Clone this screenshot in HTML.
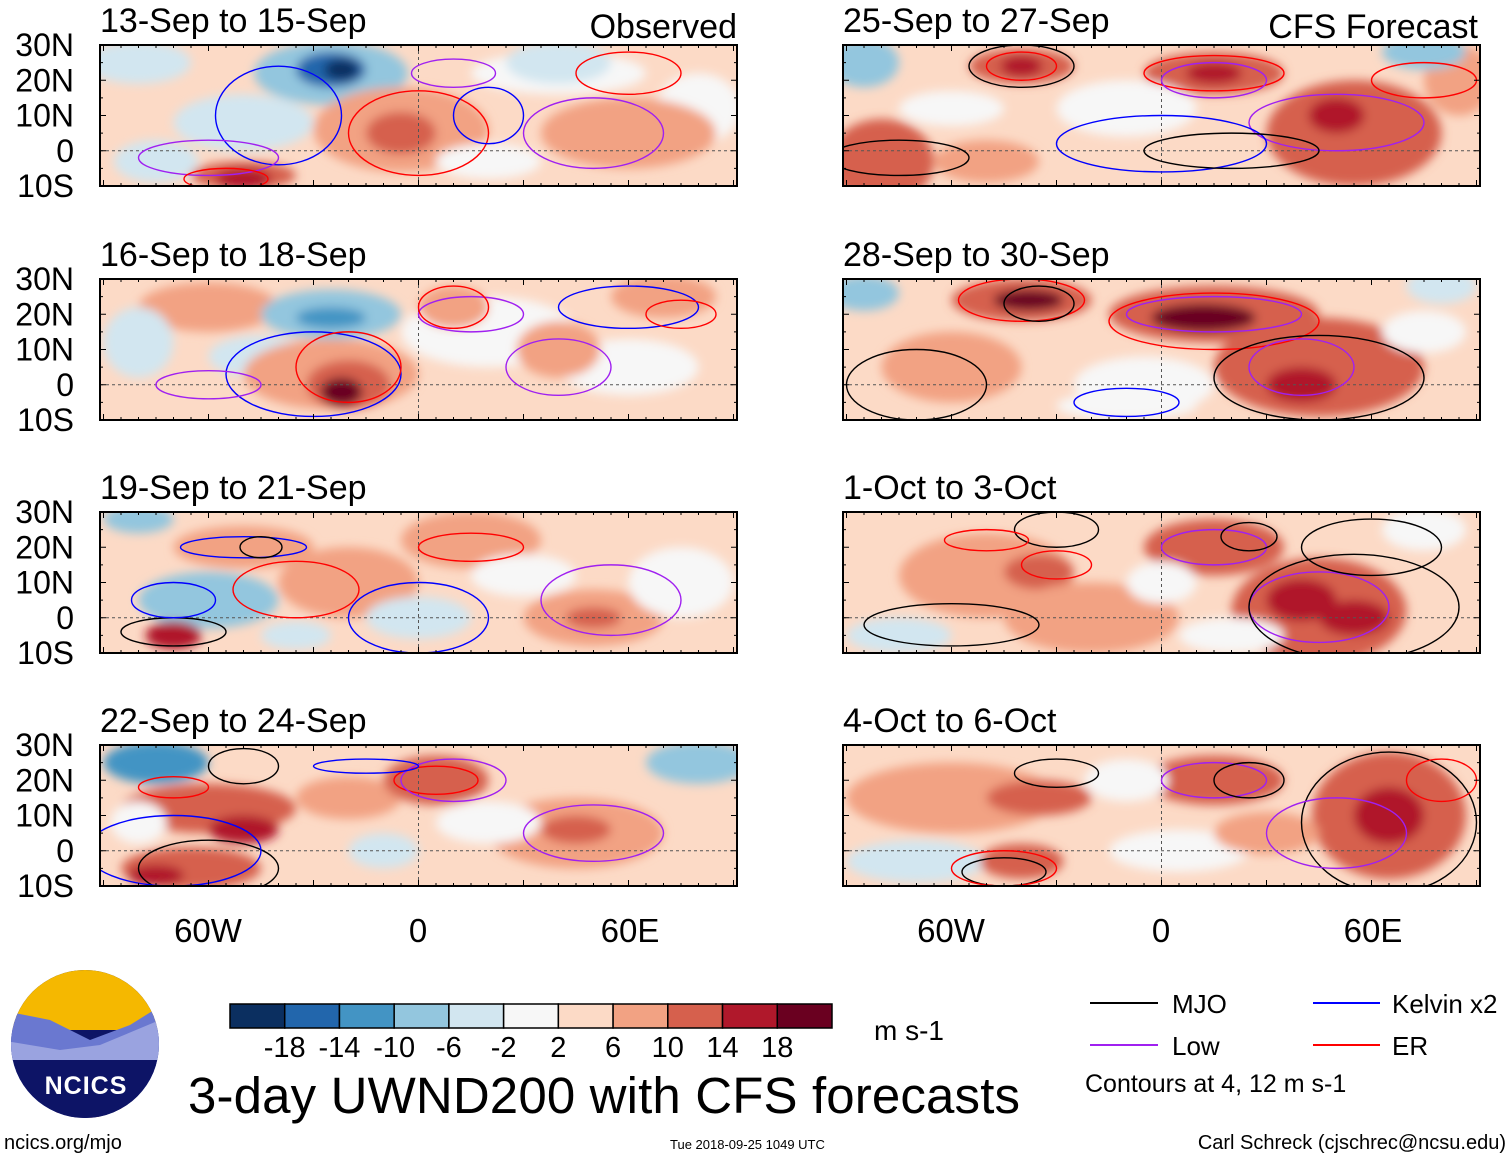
<!DOCTYPE html>
<html><head><meta charset="utf-8">
<style>
body{margin:0;background:#fff;width:1510px;height:1159px;overflow:hidden;font-family:"Liberation Sans",sans-serif}
svg{display:block}
</style></head>
<body>
<svg id="fig" width="1510" height="1159" viewBox="0 0 1510 1159" xmlns="http://www.w3.org/2000/svg">
<defs>
<filter id="blur" x="-10%" y="-10%" width="120%" height="120%"><feGaussianBlur stdDeviation="5"/></filter>
</defs>
<g id="panels"></g>
<g font-size="33" text-anchor="middle">
<text x="208" y="942">60W</text><text x="418" y="942">0</text><text x="630" y="942">60E</text>
<text x="951" y="942">60W</text><text x="1161" y="942">0</text><text x="1373" y="942">60E</text>
</g>
<text x="737" y="38" font-size="34" text-anchor="end">Observed</text>
<text x="1478" y="38" font-size="34" text-anchor="end">CFS Forecast</text>
<g>
<clipPath id="lc"><ellipse cx="85" cy="1044" rx="74" ry="74"/></clipPath>
<g clip-path="url(#lc)">
<rect x="0" y="960" width="180" height="180" fill="#0d1466"/>
<rect x="0" y="960" width="180" height="70" fill="#f5b800"/>
<path d="M0 1010 L50 1020 L90 1040 L130 1025 L170 1000 L170 1080 L150 1100 L130 1085 L110 1115 L95 1095 L60 1120 L40 1110 L20 1130 L0 1120Z" fill="#6a78d0"/>
<path d="M0 1040 L60 1050 L100 1045 L160 1020 L170 1060 L100 1070 L40 1080 L0 1070Z" fill="#9aa3e0"/>
<path d="M12 1125 L35 1110 L50 1120 L70 1100 L95 1120 L110 1100 L130 1115 L160 1080" fill="none" stroke="#e02020" stroke-width="2"/>
<rect x="0" y="1060" width="180" height="100" fill="#0d1466"/>
</g>
<text x="86" y="1094" font-size="25" font-weight="bold" fill="#fff" text-anchor="middle" letter-spacing="1">NCICS</text>
</g>
<g id="cbar"></g>
<text x="874" y="1040" font-size="28">m s-1</text>
<text x="188" y="1113" font-size="51" textLength="832">3-day UWND200 with CFS forecasts</text>
<text x="4" y="1149" font-size="20">ncics.org/mjo</text>
<text x="670" y="1149" font-size="13">Tue 2018-09-25 1049 UTC</text>
<text x="1506" y="1149" font-size="20" text-anchor="end">Carl Schreck (cjschrec@ncsu.edu)</text>
<g font-size="26">
<line x1="1090" y1="1003" x2="1158" y2="1003" stroke="#000" stroke-width="2"/><text x="1172" y="1013">MJO</text>
<line x1="1313" y1="1003" x2="1380" y2="1003" stroke="#0000ff" stroke-width="2"/><text x="1392" y="1013">Kelvin x2</text>
<line x1="1090" y1="1045" x2="1158" y2="1045" stroke="#a020f0" stroke-width="2"/><text x="1172" y="1055">Low</text>
<line x1="1313" y1="1045" x2="1380" y2="1045" stroke="#ff0000" stroke-width="2"/><text x="1392" y="1055">ER</text>
<text x="1085" y="1092" font-size="25">Contours at 4, 12 m s-1</text>
</g>
</svg>
<script>
const levelColors=["#0b2f60","#2266ac","#4394c4","#93c6de","#d2e6f0","#f7f7f7","#fcdac6","#f2a283","#d6604d","#b0182b","#6a0020"];
const cbarLabels=["-18","-14","-10","-6","-2","2","6","10","14","18"];
const panelTitles=["13-Sep to 15-Sep","16-Sep to 18-Sep","19-Sep to 21-Sep","22-Sep to 24-Sep","25-Sep to 27-Sep","28-Sep to 30-Sep","1-Oct to 3-Oct","4-Oct to 6-Oct"];
const panelBase=[6,6,6,6,6,6,6,6];
const blobs0=[[-80,25,15,6,4],[40,22,25,6,5],[80,12,12,10,5],[-25,22,22,9,3],[-25,23,10,5,1],[-22,23,5,3,0],[-50,8,20,8,4],[-5,6,25,12,7],[-5,5,10,6,8],[-50,-7,15,4,8],[-50,-8,8,3,9],[40,25,15,6,4],[60,5,25,10,7],[-75,-3,12,6,4],[20,-3,15,5,5]];
const blobs1=[[-60,22,20,7,7],[-25,20,20,7,3],[-25,19,10,3,2],[-45,8,15,6,4],[20,15,25,10,5],[60,5,20,8,5],[-25,3,25,10,7],[-20,0,12,7,8],[-22,-2,6,4,10],[70,25,15,6,7],[40,10,12,8,7],[-80,12,10,10,4],[10,22,10,6,7]];
const blobs2=[[-80,28,10,4,3],[-50,20,20,6,7],[-60,5,20,8,3],[-70,-5,8,4,9],[-20,10,20,10,7],[15,22,20,8,7],[50,0,20,8,7],[50,0,8,3,8],[0,0,15,6,4],[75,10,15,10,5],[-35,-5,10,4,4],[30,12,15,6,5]];
const blobs3=[[-75,25,15,6,2],[-60,12,25,7,8],[-50,6,10,4,9],[-65,-5,20,6,8],[-75,-7,8,3,9],[-20,15,15,6,7],[5,20,15,7,8],[45,5,25,10,7],[45,6,10,4,8],[80,25,15,6,3],[-10,0,10,5,4],[20,8,15,6,5],[-80,8,8,6,5]];
const blobs4=[[-85,25,10,7,3],[-40,24,15,5,8],[-40,24,6,3,9],[15,22,20,6,8],[15,22,8,3,9],[-80,-3,15,12,8],[-50,-3,15,6,7],[-10,12,20,8,5],[55,5,25,15,8],[50,10,8,5,9],[85,20,10,10,7],[75,28,12,5,3],[-60,12,15,5,5]];
const blobs5=[[-85,26,10,5,3],[-40,24,20,6,8],[-38,24,10,3,10],[15,20,30,8,8],[12,19,15,4,10],[-60,5,20,10,7],[45,5,30,14,8],[40,0,10,5,9],[-5,0,20,8,5],[80,28,10,5,4],[-10,-6,20,4,5],[75,15,12,6,5]];
const blobs6=[[-50,12,25,12,7],[-35,13,10,5,8],[-20,0,25,10,7],[15,20,20,8,8],[45,2,25,15,8],[40,5,10,6,9],[55,0,10,5,9],[75,25,12,6,5],[-75,-5,15,5,4],[20,-5,15,5,5],[0,10,10,6,5]];
const blobs7=[[-60,15,30,10,7],[-35,15,15,5,8],[15,20,20,7,8],[65,10,22,18,8],[65,10,10,8,9],[-70,-3,20,6,4],[-40,-3,12,5,8],[5,0,20,6,5],[30,5,15,6,7],[-10,20,12,6,5]];
const panelBlobs=[blobs0,blobs1,blobs2,blobs3,blobs4,blobs5,blobs6,blobs7];
const conts0=[[-40,10,18,14,2],[-60,-2,20,5,1],[0,5,20,12,3],[-55,-8,12,3,3],[10,22,12,4,1],[50,5,20,10,1],[60,22,15,6,3],[20,10,10,8,2]];
const conts1=[[-30,3,25,12,2],[-20,5,15,10,3],[15,20,15,5,1],[60,22,20,6,2],[75,20,10,4,3],[10,22,10,6,3],[-60,0,15,4,1],[40,5,15,8,1]];
const conts2=[[-50,20,18,3,2],[-45,20,6,3,0],[-35,8,18,8,3],[0,0,20,10,2],[15,20,15,4,3],[55,5,20,10,1],[-70,-4,15,4,0],[-70,5,12,5,2]];
const conts3=[[-50,24,10,5,0],[-60,-5,20,8,0],[-70,0,25,10,2],[5,20,12,4,3],[10,20,15,6,1],[50,5,20,8,1],[-15,24,15,2,2],[-70,18,10,3,3]];
const conts4=[[-40,24,15,6,0],[-40,24,10,4,3],[15,22,20,5,3],[15,20,15,5,1],[50,8,25,8,1],[-75,-2,20,5,0],[0,2,30,8,2],[20,0,25,5,0],[75,20,15,5,3]];
const conts5=[[-40,24,18,6,3],[-35,23,10,5,0],[15,18,30,8,3],[15,20,25,5,1],[45,2,30,12,0],[-70,0,20,10,0],[40,5,15,8,1],[-10,-5,15,4,2]];
const conts6=[[-30,25,12,5,0],[-30,15,10,4,3],[-50,22,12,3,3],[15,20,15,5,1],[25,23,8,4,0],[45,3,20,10,1],[55,3,30,15,0],[-60,-2,25,6,0],[60,20,20,8,0]];
const conts7=[[-30,22,12,4,0],[15,20,15,5,1],[25,20,10,5,0],[65,8,25,20,0],[50,5,20,10,1],[-45,-6,12,4,0],[-45,-5,15,5,3],[80,20,10,6,3]];
const panelConts=[conts0,conts1,conts2,conts3,conts4,conts5,conts6,conts7];
const contColors=["#000000","#a020f0","#0000ff","#ff0000"];
const contNames=["mjo-contour","low-contour","kelvin-contour","er-contour"];
const yTicks=["30N","20N","10N","0","10S"];
const yTickLats=[30,20,10,0,-10];
const NS="http://www.w3.org/2000/svg";
const colX=[100,843], rowY=[45,279,512,745], PW=637, PH=141;
const lonMin=-91,lonMax=91,latMin=-10,latMax=30;
function mk(t,a,p){const e=document.createElementNS(NS,t);for(const k in a)e.setAttribute(k,a[k]);p.appendChild(e);return e;}
const root=document.getElementById('panels');
for(let i=0;i<8;i++){
  const x0=colX[i<4?0:1], y0=rowY[i%4];
  const X=lon=>x0+(lon-lonMin)/(lonMax-lonMin)*PW;
  const Y=lat=>y0+(latMax-lat)/(latMax-latMin)*PH;
  const sx=PW/(lonMax-lonMin), sy=PH/(latMax-latMin);
  const g=mk('g',{},root);
  
  
  const cp=mk('clipPath',{id:'cp'+i},g);
  mk('rect',{x:x0,y:y0,width:PW,height:PH},cp);
  const inner=mk('g',{'clip-path':'url(#cp'+i+')'},g);
  mk('rect',{x:x0,y:y0,width:PW,height:PH,fill:levelColors[panelBase[i]]},inner);
  const fg=mk('g',{filter:'url(#blur)'},inner);
  panelBlobs[i].forEach(b=>{
    const e=mk('ellipse',{cx:X(b[0]),cy:Y(b[1]),rx:b[2]*sx,ry:b[3]*sy,fill:levelColors[b[4]]},fg);
    
    
  });
  mk('line',{x1:x0,y1:Y(0),x2:x0+PW,y2:Y(0),stroke:'#555','stroke-dasharray':'3,3','stroke-width':1},inner);
  mk('line',{x1:X(0),y1:y0,x2:X(0),y2:y0+PH,stroke:'#555','stroke-dasharray':'3,3','stroke-width':1},inner);
  panelConts[i].forEach(c=>{
    const e=mk('ellipse',{cx:X(c[0]),cy:Y(c[1]),rx:c[2]*sx,ry:c[3]*sy,fill:'none',stroke:contColors[c[4]],'stroke-width':1.4},inner);
    
    
  });
  mk('rect',{x:x0,y:y0,width:PW,height:PH,fill:'none',stroke:'#000','stroke-width':2},g);
  for(let lon=-90;lon<=90;lon+=5){const L=lon%30===0?6:3;
    mk('line',{x1:X(lon),y1:y0,x2:X(lon),y2:y0+L,stroke:'#000'},g);
    mk('line',{x1:X(lon),y1:y0+PH,x2:X(lon),y2:y0+PH-L,stroke:'#000'},g);}
  for(let lat=-10;lat<=30;lat+=5){const L=lat%10===0?6:3;
    mk('line',{x1:x0,y1:Y(lat),x2:x0+L,y2:Y(lat),stroke:'#000'},g);
    mk('line',{x1:x0+PW,y1:Y(lat),x2:x0+PW-L,y2:Y(lat),stroke:'#000'},g);}
  const t=mk('text',{x:x0,y:y0-13,'font-size':34},g);t.textContent=panelTitles[i];
  
  
  if(i<4){yTicks.forEach((s,k)=>{const tt=mk('text',{x:74,y:Y(yTickLats[k])+11,'font-size':32,'text-anchor':'end'},g);tt.textContent=s;
    
    });}
}
const cb=document.getElementById('cbar');
const cx0=230,cw=602/11;
levelColors.forEach((c,k)=>{const r=mk('rect',{x:cx0+k*cw,y:1004,width:cw,height:24,fill:c,stroke:'#000','stroke-width':1.5},cb);
  
  });
cbarLabels.forEach((s,k)=>{const t=mk('text',{x:cx0+(k+1)*cw,y:1057,'font-size':29,'text-anchor':'middle'},cb);t.textContent=s;
  
  });
</script>
</body></html>
